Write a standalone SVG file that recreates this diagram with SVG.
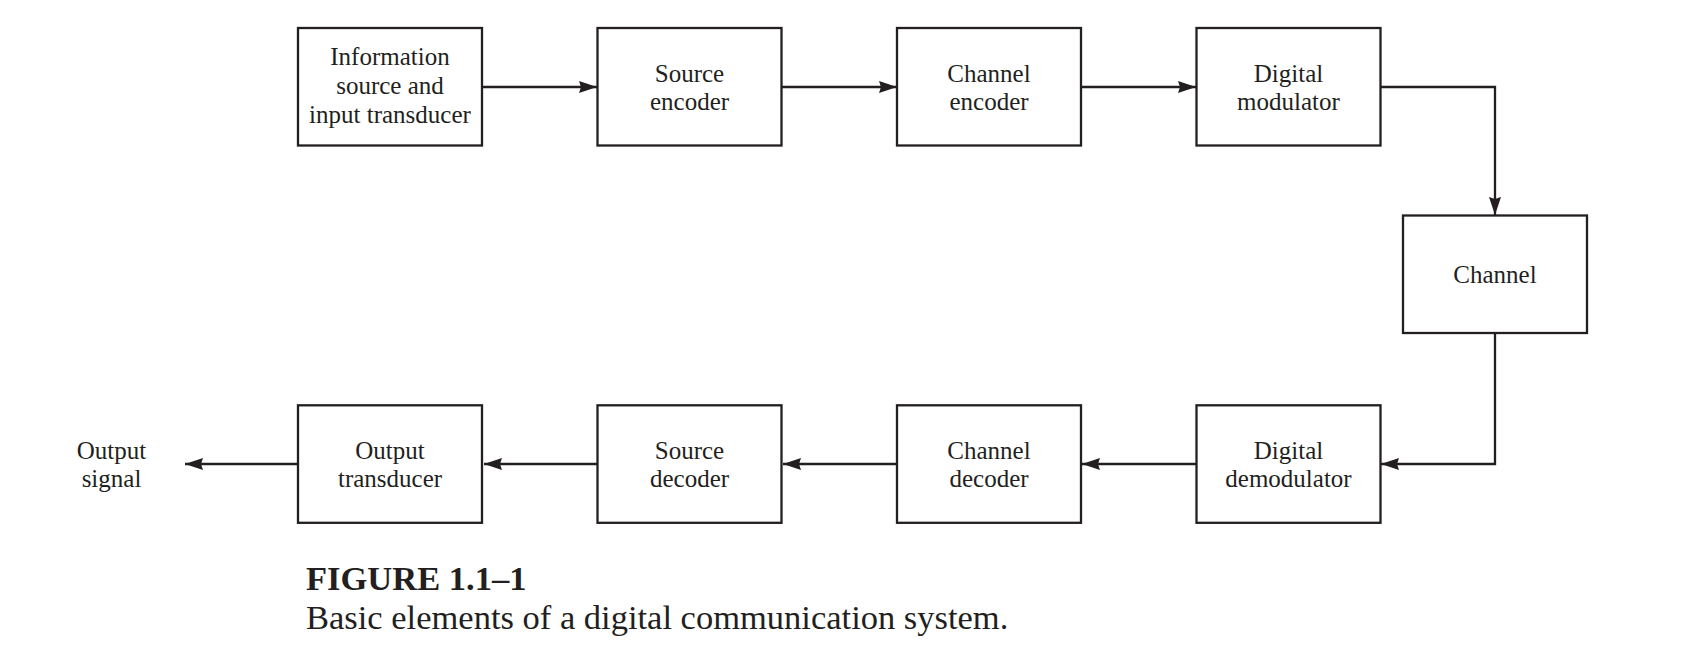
<svg xmlns="http://www.w3.org/2000/svg" width="1705" height="647" viewBox="0 0 1705 647">
<style>
.box{fill:#fff;stroke:#231f20;stroke-width:2.3}
.lbl{font-family:"Liberation Serif","Times New Roman",serif;font-size:25px;fill:#231f20;text-anchor:middle}
.wire{fill:none;stroke:#231f20;stroke-width:2.3}
.cap{font-family:"Liberation Serif","Times New Roman",serif;font-size:34.5px;fill:#231f20}
</style>
<defs>
<marker id="ah" markerUnits="userSpaceOnUse" markerWidth="20" markerHeight="14" refX="18" refY="7" orient="auto">
<path d="M0,1 L18,7 L0,13 L2,7 Z" fill="#231f20"/>
</marker>
</defs>
<rect width="1705" height="647" fill="#fff"/>
<g id="connectors">
<path class="wire" d="M482,87 H597" marker-end="url(#ah)"/>
<path class="wire" d="M781,87 H897" marker-end="url(#ah)"/>
<path class="wire" d="M1081,87 H1196" marker-end="url(#ah)"/>
<path class="wire" d="M1380,87 H1495 V215" marker-end="url(#ah)"/>
<path class="wire" d="M1495,333 V464 H1381" marker-end="url(#ah)"/>
<path class="wire" d="M1196,464 H1082" marker-end="url(#ah)"/>
<path class="wire" d="M897,464 H783" marker-end="url(#ah)"/>
<path class="wire" d="M597,464 H484" marker-end="url(#ah)"/>
<path class="wire" d="M298,464 H185" marker-end="url(#ah)"/>
</g>
<g id="info-source">
<rect class="box" x="298" y="28" width="184" height="117.5"/>
<text class="lbl" x="390" y="65">Information</text>
<text class="lbl" x="390" y="94">source and</text>
<text class="lbl" x="390" y="122.5">input transducer</text>
</g>
<g id="source-encoder">
<rect class="box" x="597.5" y="28" width="184" height="117.5"/>
<text class="lbl" x="689.5" y="81.7">Source</text>
<text class="lbl" x="689.5" y="110">encoder</text>
</g>
<g id="channel-encoder">
<rect class="box" x="897" y="28" width="184" height="117.5"/>
<text class="lbl" x="989" y="81.7">Channel</text>
<text class="lbl" x="989" y="110">encoder</text>
</g>
<g id="digital-modulator">
<rect class="box" x="1196.5" y="28" width="184" height="117.5"/>
<text class="lbl" x="1288.5" y="81.7">Digital</text>
<text class="lbl" x="1288.5" y="110">modulator</text>
</g>
<g id="channel">
<rect class="box" x="1403" y="215.5" width="184" height="117.5"/>
<text class="lbl" x="1495" y="282.7">Channel</text>
</g>
<g id="digital-demodulator">
<rect class="box" x="1196.5" y="405.3" width="184" height="117.5"/>
<text class="lbl" x="1288.5" y="459.3">Digital</text>
<text class="lbl" x="1288.5" y="487.3">demodulator</text>
</g>
<g id="channel-decoder">
<rect class="box" x="897" y="405.3" width="184" height="117.5"/>
<text class="lbl" x="989" y="459.3">Channel</text>
<text class="lbl" x="989" y="487.3">decoder</text>
</g>
<g id="source-decoder">
<rect class="box" x="597.5" y="405.3" width="184" height="117.5"/>
<text class="lbl" x="689.5" y="459.3">Source</text>
<text class="lbl" x="689.5" y="487.3">decoder</text>
</g>
<g id="output-transducer">
<rect class="box" x="298" y="405.3" width="184" height="117.5"/>
<text class="lbl" x="390" y="459.3">Output</text>
<text class="lbl" x="390" y="487.3">transducer</text>
</g>
<g id="output-signal">
<text class="lbl" x="111.5" y="459.3">Output</text>
<text class="lbl" x="111.5" y="487.3">signal</text>
</g>
<g id="caption">
<text class="cap" x="306" y="590" font-weight="bold">FIGURE 1.1–1</text>
<text class="cap" x="306" y="629">Basic elements of a digital communication system.</text>
</g>
</svg>
